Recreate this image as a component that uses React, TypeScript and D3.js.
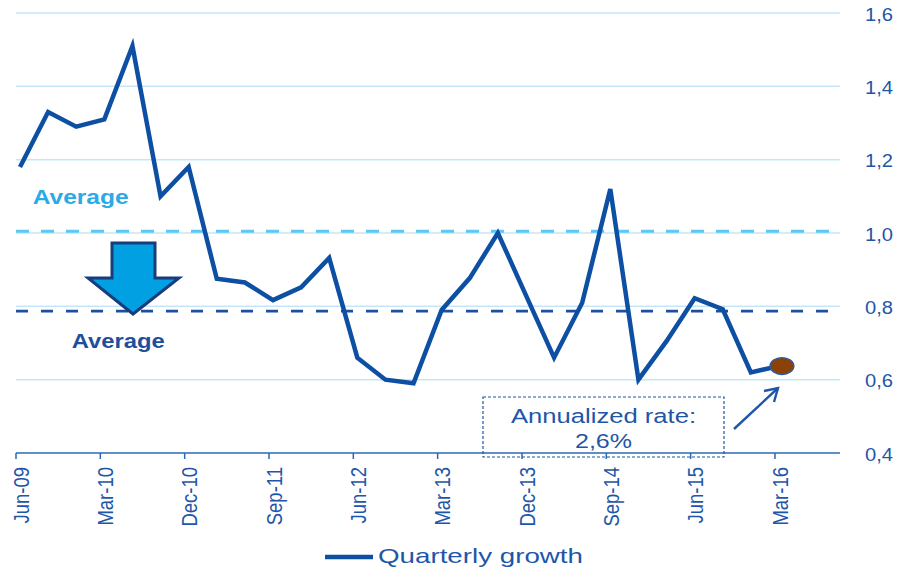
import React from "react";
import * as d3 from "d3";

const quarters = [
  "Jun-09", "Sep-09", "Dec-09", "Mar-10", "Jun-10", "Sep-10", "Dec-10",
  "Mar-11", "Jun-11", "Sep-11", "Dec-11", "Mar-12", "Jun-12", "Sep-12",
  "Dec-12", "Mar-13", "Jun-13", "Sep-13", "Dec-13", "Mar-14", "Jun-14",
  "Sep-14", "Dec-14", "Mar-15", "Jun-15", "Sep-15", "Dec-15", "Mar-16",
];
const growth = [
  1.18, 1.33, 1.29, 1.31, 1.51, 1.10, 1.18,
  0.875, 0.865, 0.817, 0.852, 0.932, 0.66, 0.60,
  0.59, 0.79, 0.877, 1.0, 0.83, 0.66, 0.81,
  1.12, 0.60, 0.705, 0.822, 0.792, 0.62, 0.637,
];
const tickLabels = ["Jun-09", "Mar-10", "Dec-10", "Sep-11", "Jun-12", "Mar-13", "Dec-13", "Sep-14", "Jun-15", "Mar-16"];
const yTicks = [0.4, 0.6, 0.8, 1.0, 1.2, 1.4, 1.6];
const averageBefore = 1.005;
const averageAfter = 0.787;
const forecastLabel = "Mar-16";
const annotationLines = ["Annualized rate:", "2,6%"];
const legendLabel = "Quarterly growth";

const FONT = "'Liberation Sans', Arial, Helvetica, sans-serif";

export default function App() {
  const W = 899, H = 568;
  const left = 16, right = 840, top = 13, bottom = 453;
  const step = 28.11;
  const x = d3.scaleLinear().domain([0, (right - left) / step]).range([left, right]);
  const y = d3.scaleLinear().domain([0.4, 1.6]).range([bottom, top]);
  const px = (i: number) => x(i) + 4;

  const line = d3.line<number>().x((_, i) => px(i)).y((d) => y(d));
  const fcIdx = quarters.indexOf(forecastLabel);

  const darkBlue = "#0D4FA3";
  const textBlue = "#1E56A8";
  const fmt = (v: number) => v.toFixed(1).replace(".", ",");

  const ax = 133;
  const arrowPts = [
    [ax - 21, 243], [ax + 22, 243], [ax + 22, 278], [ax + 46, 278],
    [ax, 314], [ax - 45, 278], [ax - 21, 278],
  ].map((p) => p.join(",")).join(" ");

  const fx = px(fcIdx), fy = y(growth[fcIdx]);

  return (
    <svg width={W} height={H} style={{ position: "absolute", left: 0, top: 0, background: "#fff" }} fontFamily={FONT}>
      {yTicks.filter((t) => t > 0.4).map((t) => (
        <line key={t} x1={left} x2={right} y1={y(t)} y2={y(t)} stroke="#C3E7F8" strokeWidth={1.5} />
      ))}
      <line x1={left} x2={right} y1={y(0.4)} y2={y(0.4)} stroke="#2B68B5" strokeWidth={1.5} />
      {yTicks.map((t) => (
        <text key={t} x={865} y={y(t) + 7.5} fontSize={17.5} fill={textBlue} textLength={28} lengthAdjust="spacingAndGlyphs">
          {fmt(t)}
        </text>
      ))}
      {tickLabels.map((lab) => {
        const i = quarters.indexOf(lab);
        const tx = x(i);
        return (
          <g key={lab}>
            <line x1={tx} x2={tx} y1={bottom} y2={bottom + 6} stroke="#2B68B5" strokeWidth={1.5} />
            <text transform={`translate(${tx + 5},${bottom + 14}) rotate(-90) scale(1,1.18)`} textAnchor="end" dominantBaseline="central" fontSize={18.5} fill={textBlue}>
              {lab}
            </text>
          </g>
        );
      })}
      <line x1={left} x2={right} y1={y(averageBefore)} y2={y(averageBefore)} stroke="#5BC8F5" strokeWidth={3} strokeDasharray="13 12" />
      <line x1={left} x2={right} y1={y(averageAfter)} y2={y(averageAfter)} stroke="#1D4F9C" strokeWidth={2.8} strokeDasharray="12 13" />
      <text x={32.7} y={204} fontSize={20} fontWeight="bold" fill="#2AAAE6" textLength={96} lengthAdjust="spacingAndGlyphs">Average</text>
      <text x={71.7} y={347.7} fontSize={20} fontWeight="bold" fill="#1E4E9E" textLength={93} lengthAdjust="spacingAndGlyphs">Average</text>
      <polygon points={arrowPts} fill="#00A0E2" stroke="#183C7C" strokeWidth={3} strokeLinejoin="miter" />
      <path d={line(growth) || ""} fill="none" stroke={darkBlue} strokeWidth={4.5} strokeLinejoin="miter" strokeLinecap="butt" />
      <ellipse cx={fx + 3} cy={fy} rx={12} ry={8.5} fill="#8B4209" stroke="#2360B0" strokeWidth={1.2} />
      <rect x={483} y={397} width={241} height={60} fill="none" stroke="#1E56A8" strokeWidth={1.2} strokeDasharray="3 2" />
      <text x={603.5} y={423.3} textAnchor="middle" fontSize={20.5} fill={textBlue} textLength={185} lengthAdjust="spacingAndGlyphs">{annotationLines[0]}</text>
      <text x={603.5} y={448.3} textAnchor="middle" fontSize={20.5} fill={textBlue} textLength={57} lengthAdjust="spacingAndGlyphs">{annotationLines[1]}</text>
      <line x1={734} y1={429} x2={778} y2={388} stroke="#1E56A8" strokeWidth={2.4} />
      <polyline points="764,391 778,388 774,402" fill="none" stroke="#1E56A8" strokeWidth={2.4} />
      <line x1={325} x2={373} y1={557} y2={557} stroke={darkBlue} strokeWidth={4.5} />
      <text x={378} y={563.3} fontSize={21} fill={textBlue} textLength={205} lengthAdjust="spacingAndGlyphs">{legendLabel}</text>
    </svg>
  );
}
